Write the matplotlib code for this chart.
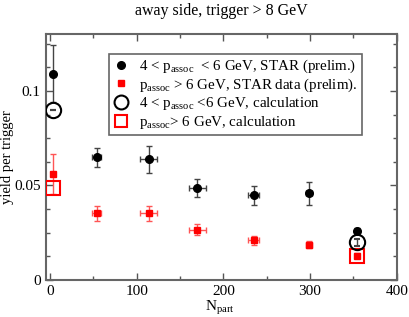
import matplotlib
matplotlib.use("Agg")
import matplotlib.pyplot as plt
from matplotlib.ticker import MultipleLocator
from matplotlib.lines import Line2D

plt.rcParams['font.family'] = ['Liberation Serif', 'DejaVu Serif']
plt.rcParams['mathtext.fontset'] = 'custom'
plt.rcParams['mathtext.rm'] = 'Liberation Serif'
plt.rcParams['mathtext.it'] = 'Liberation Serif:italic'

# STAR 4 < p_assoc < 6 GeV
npart_a = [4, 54, 114, 170, 235, 299, 354]
yield_a = [0.1092, 0.0650, 0.0638, 0.0488, 0.0449, 0.0458, 0.0261]
yerr_a = [0.0150, 0.0050, 0.0072, 0.0047, 0.0050, 0.0060, 0.0015]
xerr_a = [0, 5, 10, 10, 6, 3.5, 0]

# STAR p_assoc > 6 GeV
npart_b = [4, 54, 114, 170, 235, 299, 354]
yield_b = [0.0562, 0.0352, 0.0352, 0.0267, 0.0210, 0.0187, 0.0129]
yerr_b = [0.0106, 0.0040, 0.0040, 0.0030, 0.0025, 0.0020, 0.0015]
xerr_b = [0, 5, 10, 10, 6, 3.5, 0]

# calculations
npart_c = [4, 354]
yield_c = [0.0899, 0.0199]
yerr_c = [0.0, 0.0020]
yield_d = [0.0488, 0.0129]

labels = [r'4 < p$_{\mathrm{assoc}}$  < 6 GeV, STAR (prelim.)',
          r'p$_{\mathrm{assoc}}$ > 6 GeV, STAR data (prelim).',
          r'4 < p$_{\mathrm{assoc}}$ <6 GeV, calculation',
          r'p$_{\mathrm{assoc}}$> 6 GeV, calculation']

fig = plt.figure(figsize=(4.09, 3.17), dpi=100)
ax = fig.add_axes([0.1117, 0.1167, 0.8582, 0.7752])

ax.errorbar(npart_a, yield_a, yerr=yerr_a, xerr=xerr_a, fmt='o', color='black',
            ecolor='#444444', elinewidth=1, capsize=2.5, capthick=1, markersize=5.5,
            zorder=3)
ax.errorbar(npart_b, yield_b, yerr=yerr_b, xerr=xerr_b, fmt='s', color='red',
            ecolor='#ff5555', elinewidth=1, capsize=2.5, capthick=1, markersize=5,
            zorder=3)
ax.errorbar(npart_c, yield_c, yerr=yerr_c, fmt='o', mfc='none', mec='black', mew=1.5,
            ecolor='#444444', elinewidth=1, capsize=2.5, markersize=11, zorder=4)
ax.plot(npart_c, yield_d, 's', mfc='none', mec='red', mew=1.5, markersize=10, zorder=4)

ax.set_xlim(-5, 400)
ax.set_ylim(0, 0.13)
ax.xaxis.set_minor_locator(MultipleLocator(50))
ax.yaxis.set_minor_locator(MultipleLocator(0.0125))
ax.set_xticks([0, 100, 200, 300, 400])
ax.set_xticklabels(['0', '100', '200', '300', '400'])
ax.set_yticks([0, 0.05, 0.1])
ax.set_yticklabels(['0', '0.05', '0.1'])
ax.tick_params(which='both', direction='in', top=True, right=True, colors='#555555',
               labelcolor='black', labelsize=11)
ax.tick_params(which='major', length=5, width=1)
ax.tick_params(which='minor', length=3, width=1)
for s in ax.spines.values():
    s.set_color('#666666')
    s.set_linewidth(1.5)

ax.set_xlabel(r'N$_{\mathrm{part}}$', fontsize=11)
ax.xaxis.set_label_coords(0.495, -0.078)
ax.set_ylabel('yield per trigger', fontsize=10.5)
ax.yaxis.set_label_coords(-0.09, 0.5)
fig.text(0.542, 0.965, 'away side, trigger > 8 GeV', ha='center', va='center', fontsize=11.5)

handles = [
    Line2D([], [], ls='none', marker='o', color='black', markersize=5.5),
    Line2D([], [], ls='none', marker='s', color='red', markersize=4.5),
    Line2D([], [], ls='none', marker='o', mfc='none', mec='black', mew=1.5, markersize=10),
    Line2D([], [], ls='none', marker='s', mfc='none', mec='red', mew=1.5, markersize=9),
]
leg = ax.legend(handles, labels, loc='upper right', bbox_to_anchor=(0.9, 0.92),
                fontsize=10.8, frameon=True, fancybox=False, edgecolor='#666666',
                framealpha=1, handletextpad=0.6, borderpad=0.25, labelspacing=0.1,
                handlelength=1.2, borderaxespad=0)
leg.get_frame().set_linewidth(1.2)

fig.savefig('out.png', dpi=100)
